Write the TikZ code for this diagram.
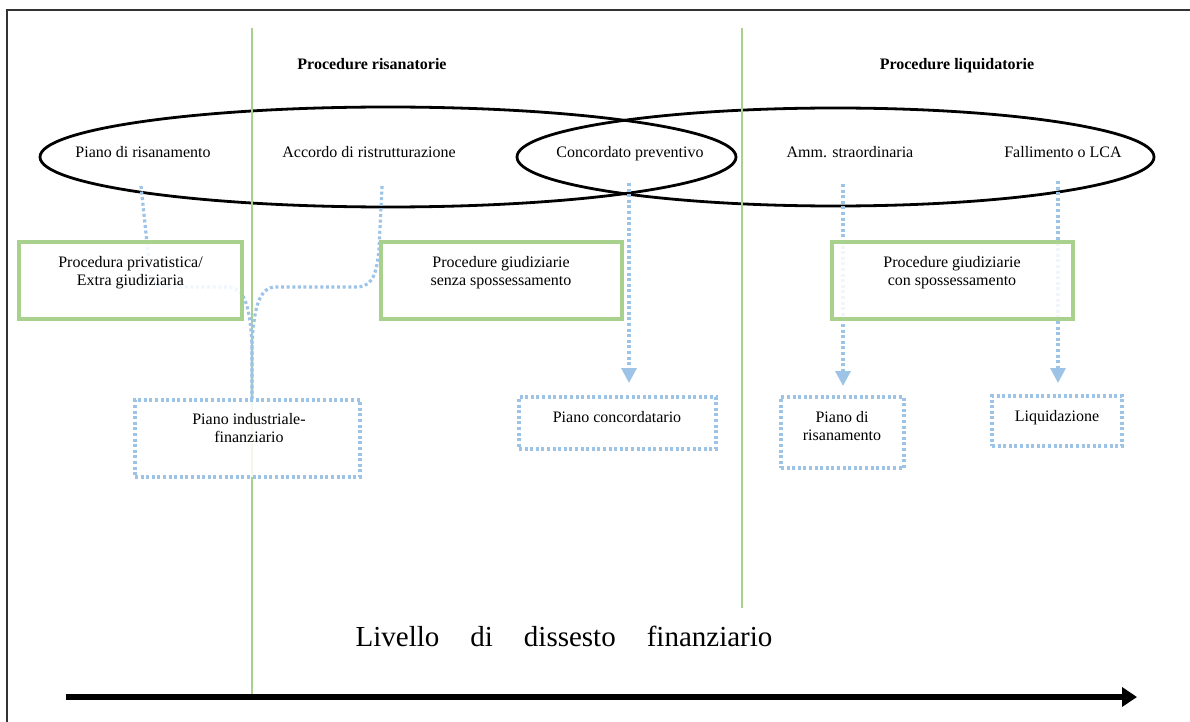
\documentclass[tikz,border=0pt]{standalone}
\usepackage{fontspec}
\setmainfont{Liberation Serif}
\usetikzlibrary{arrows.meta,shapes.geometric}
\definecolor{gline}{HTML}{A9D18E}
\definecolor{bline}{HTML}{9DC3E6}
\begin{document}
\begin{tikzpicture}[x=1pt,y=-1pt,
  txt/.style={inner sep=0pt, align=center, font=\fontsize{16}{18}\selectfont},
  btxt/.style={txt, anchor=base},
  head/.style={inner sep=0pt, anchor=base, font=\fontsize{16}{18}\selectfont\bfseries},
  gbox/.style={draw=gline, line width=3.2pt, fill=white, fill opacity=0.85, inner sep=0pt},
  bbox/.style={draw=bline, line width=3.2pt, dash pattern=on 3pt off 2.6pt, fill=white, fill opacity=0.85, inner sep=0pt},
  conn/.style={draw=bline, line width=3.2pt, dash pattern=on 3pt off 2.6pt},
  ctip/.style={-{Triangle[width=15pt,length=15pt]}},
  oval/.style={ellipse, draw=black, line width=2.8pt, inner sep=0pt},
  gsep/.style={draw=gline, line width=2.8pt}]
\useasboundingbox (0,0) rectangle (1190,722);
% frame
\draw[line width=1.8pt, black!80] (7,722) -- (7,10) -- (1190,10);
% headings
\node[head] (h1) at (372,69.5) {Procedure risanatorie};
\node[head] (h2) at (957,69.5) {Procedure liquidatorie};
% ellipses
\node[oval, minimum width=696, minimum height=100] (eL) at (388,157) {};
\node[oval, minimum width=637, minimum height=98] (eR) at (835.5,157) {};
% ellipse texts
\node[btxt] (t1) at (143,157.5) {Piano di risanamento};
\node[btxt] (t2) at (369,157.5) {Accordo di ristrutturazione};
\node[btxt] (t3) at (630,157.5) {Concordato preventivo};
\node[btxt] (t4) at (850,157.5) {Amm. straordinaria};
\node[btxt] (t5) at (1063,157.5) {Fallimento o LCA};
% green separators
\coordinate (g1top) at (252,28);
\coordinate (g1bot) at (252,694);
\coordinate (g2top) at (742,28);
\coordinate (g2bot) at (742,608);
\draw[gsep] (g1top) -- (g1bot);
\draw[gsep] (g2top) -- (g2bot);
% connector anchors
\coordinate (c1) at (141,186);
\coordinate (c2) at (382,186);
\coordinate (c3) at (629,183);
\coordinate (c4) at (843,184);
\coordinate (c5) at (1058,181);
\coordinate (jm) at (252,345);
\coordinate (jA) at (252,399);
% connectors
\draw[conn] (c1) -- (149,262) .. controls (151,282) and (155,287) .. (170,287)
  -- (228,287) .. controls (244,287) and (250,305) .. (jm) -- (jA);
\draw[conn] (c2) -- (379,250) .. controls (376,280) and (370,287) .. (355,287)
  -- (276,287) .. controls (260,287) and (254,305) .. (jm) -- (jA);
\draw[conn, ctip, shorten >=14pt] (c3) -- (c3 |- 0,397);
\draw[conn, ctip, shorten >=11pt] (c4) -- (c4 |- 0,397);
\draw[conn, ctip, shorten >=13pt] (c5) -- (c5 |- 0,396);
% boxes (translucent white fill lets lines behind show faintly)
\node[gbox, minimum width=223, minimum height=77] (b1) at (130.5,280.5) {};
\node[gbox, minimum width=241, minimum height=77] (b2) at (501.5,280.5) {};
\node[gbox, minimum width=241, minimum height=77] (b3) at (952.5,280.5) {};
\node[bbox, minimum width=225, minimum height=77] (bA) at (247.5,438.5) {};
\node[bbox, minimum width=197, minimum height=52] (bB) at (617.5,423) {};
\node[bbox, minimum width=123, minimum height=71] (bC) at (842.5,432.5) {};
\node[bbox, minimum width=130, minimum height=50] (bD) at (1057,421) {};
% box texts
\node[txt] (b1t) at (130.5,273) {Procedura privatistica/\\Extra giudiziaria};
\node[txt] (b2t) at (501,272.5) {Procedure giudiziarie\\senza spossessamento};
\node[txt] (b3t) at (952,272.5) {Procedure giudiziarie\\con spossessamento};
\node[txt] (bAt) at (249,428) {Piano industriale-\\finanziario};
\node[btxt] (bBt) at (617,422) {Piano concordatario};
\node[txt] (bCt) at (842,426) {Piano di\\risanamento};
\node[btxt] (bDt) at (1057,421) {Liquidazione};
% bottom
\node[inner sep=0pt, anchor=base, font=\fontsize{29}{32}\selectfont] (lv) at (564,646)
  {Livello\hspace{31pt}di\hspace{31pt}dissesto\hspace{31pt}finanziario};
\coordinate (ax0) at (66,697);
\coordinate (ax1) at (1137,697);
\draw[line width=5.5pt, -{Triangle[width=19pt,length=15pt]}] (ax0) -- (ax1);
\end{tikzpicture}
\end{document}
